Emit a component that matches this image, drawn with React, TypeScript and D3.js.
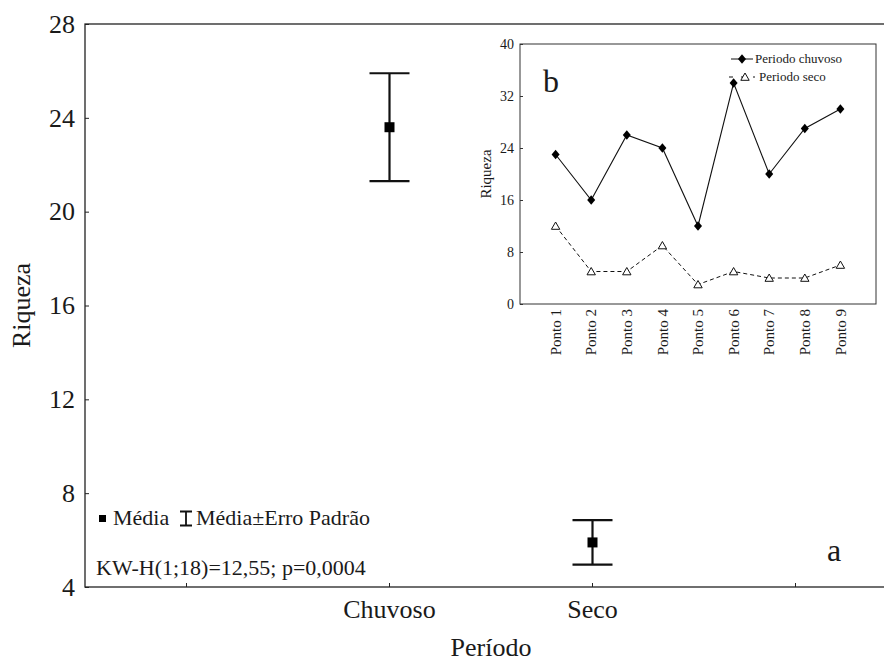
import * as d3 from "d3";
import { useEffect, useRef } from "react";

// main chart: mean +- standard error per period
const periodSlots = ["", "Chuvoso", "Seco", ""];
const periodMeans = [null, 23.6, 5.9, null];
const periodErrors = [null, 2.3, 0.95, null];
const mainTicks = [4, 8, 12, 16, 20, 24, 28];

// inset: richness per sampling point
const pontos = ["Ponto 1", "Ponto 2", "Ponto 3", "Ponto 4", "Ponto 5", "Ponto 6", "Ponto 7", "Ponto 8", "Ponto 9"];
const chuvoso = [23, 16, 26, 24, 12, 34, 20, 27, 30];
const seco = [12, 5, 5, 9, 3, 5, 4, 4, 6];
const insetTicks = [0, 8, 16, 24, 32, 40];

const FONT = "'Liberation Serif', 'Times New Roman', serif";
const INK = "#1a1a1a";

export default function App() {
  const ref = useRef<SVGSVGElement | null>(null);

  useEffect(() => {
    const svg = d3.select(ref.current);
    svg.selectAll("*").remove();

    const m = { left: 85, top: 24, right: 897, bottom: 587 };

    const x = d3.scaleBand<number>().domain(d3.range(periodSlots.length)).range([m.left, m.right]);
    const y = d3.scaleLinear().domain([4, 28]).range([m.bottom, m.top]);

    svg
      .append("rect")
      .attr("x", m.left)
      .attr("y", m.top)
      .attr("width", m.right - m.left)
      .attr("height", m.bottom - m.top)
      .attr("fill", "none")
      .attr("stroke", "#222")
      .attr("stroke-width", 1.3);

    // y axis
    const yAxis = svg
      .append("g")
      .attr("transform", `translate(${m.left},0)`)
      .call(d3.axisLeft(y).tickValues(mainTicks).tickSize(-4).tickPadding(10));
    yAxis.select(".domain").remove();
    yAxis.selectAll("line").attr("stroke", "#222");
    yAxis.selectAll("text").attr("font-family", FONT).attr("font-size", 26).attr("fill", INK);

    // x axis
    const xAxis = svg
      .append("g")
      .attr("transform", `translate(0,${m.bottom})`)
      .call(
        d3
          .axisBottom(x)
          .tickFormat((i) => periodSlots[i])
          .tickSize(-4)
          .tickPadding(13)
      );
    xAxis.select(".domain").remove();
    xAxis.selectAll("line").attr("stroke", "#222");
    xAxis.selectAll("text").attr("font-family", FONT).attr("font-size", 26).attr("fill", INK);

    svg
      .append("text")
      .attr("transform", `translate(30,${(m.top + m.bottom) / 2}) rotate(-90)`)
      .attr("text-anchor", "middle")
      .attr("font-family", FONT)
      .attr("font-size", 26)
      .attr("fill", INK)
      .text("Riqueza");

    svg
      .append("text")
      .attr("x", (m.left + m.right) / 2)
      .attr("y", 656)
      .attr("text-anchor", "middle")
      .attr("font-family", FONT)
      .attr("font-size", 26)
      .attr("fill", INK)
      .text("Período");

    // error bars
    const bars = periodSlots
      .map((label, i) => ({ i, mean: periodMeans[i], se: periodErrors[i] }))
      .filter((d) => d.mean != null);
    const cap = 20;
    const eb = svg.append("g").attr("stroke", "#111").attr("stroke-width", 2.2);
    bars.forEach((d) => {
      const cx = x(d.i)! + x.bandwidth() / 2;
      const hi = y(d.mean! + d.se!);
      const lo = y(d.mean! - d.se!);
      eb.append("line").attr("x1", cx).attr("x2", cx).attr("y1", hi).attr("y2", lo);
      eb.append("line").attr("x1", cx - cap).attr("x2", cx + cap).attr("y1", hi).attr("y2", hi);
      eb.append("line").attr("x1", cx - cap).attr("x2", cx + cap).attr("y1", lo).attr("y2", lo);
      svg
        .append("rect")
        .attr("x", cx - 5)
        .attr("y", y(d.mean!) - 5)
        .attr("width", 10)
        .attr("height", 10)
        .attr("fill", "#000");
    });

    // legend + stats
    svg.append("rect").attr("x", 99).attr("y", 515).attr("width", 7).attr("height", 7).attr("fill", "#000");
    svg
      .append("text")
      .attr("x", 113)
      .attr("y", 525)
      .attr("font-family", FONT)
      .attr("font-size", 22)
      .attr("fill", INK)
      .text("Média");
    svg
      .append("path")
      .attr("d", "M180,511.5H192M186,511.5V525.5M180,525.5H192")
      .attr("stroke", "#111")
      .attr("stroke-width", 1.8)
      .attr("fill", "none");
    svg
      .append("text")
      .attr("x", 196)
      .attr("y", 525)
      .attr("font-family", FONT)
      .attr("font-size", 22)
      .attr("fill", INK)
      .text("Média±Erro Padrão");
    svg
      .append("text")
      .attr("x", 96)
      .attr("y", 575)
      .attr("font-family", FONT)
      .attr("font-size", 22)
      .attr("fill", INK)
      .text("KW-H(1;18)=12,55; p=0,0004");
    svg
      .append("text")
      .attr("x", 827)
      .attr("y", 561)
      .attr("font-family", FONT)
      .attr("font-size", 32)
      .attr("fill", INK)
      .text("a");

    // ---- inset ----
    const n = { left: 520, top: 44, right: 876, bottom: 304 };
    const ix = d3.scalePoint().domain(pontos).range([n.left, n.right]).padding(1);
    const iy = d3.scaleLinear().domain([0, 40]).range([n.bottom, n.top]);

    svg
      .append("rect")
      .attr("x", n.left)
      .attr("y", n.top)
      .attr("width", n.right - n.left)
      .attr("height", n.bottom - n.top)
      .attr("fill", "#fff")
      .attr("stroke", "#333")
      .attr("stroke-width", 1);

    const iyAxis = svg
      .append("g")
      .attr("transform", `translate(${n.left},0)`)
      .call(d3.axisLeft(iy).tickValues(insetTicks).tickSize(-3).tickPadding(6));
    iyAxis.select(".domain").remove();
    iyAxis.selectAll("line").attr("stroke", "#333");
    iyAxis.selectAll("text").attr("font-family", FONT).attr("font-size", 14).attr("fill", INK);

    svg
      .append("g")
      .selectAll("text")
      .data(pontos)
      .join("text")
      .attr("transform", (d) => `translate(${ix(d)},309) rotate(-90)`)
      .attr("text-anchor", "end")
      .attr("dy", "0.35em")
      .attr("font-family", FONT)
      .attr("font-size", 15)
      .attr("fill", INK)
      .text((d) => d);

    svg
      .append("text")
      .attr("transform", `translate(491,${(n.top + n.bottom) / 2}) rotate(-90)`)
      .attr("text-anchor", "middle")
      .attr("font-family", FONT)
      .attr("font-size", 15)
      .attr("fill", INK)
      .text("Riqueza");

    const line = d3
      .line<number>()
      .x((d, i) => ix(pontos[i])!)
      .y((d) => iy(d));

    svg
      .append("path")
      .attr("d", line(seco))
      .attr("fill", "none")
      .attr("stroke", "#111")
      .attr("stroke-width", 1)
      .attr("stroke-dasharray", "4,3");
    svg
      .append("path")
      .attr("d", line(chuvoso))
      .attr("fill", "none")
      .attr("stroke", "#111")
      .attr("stroke-width", 1.1);

    const diamond = "M0,-4.8L4,0L0,4.8L-4,0Z";
    const triangle = "M0,-4L4.2,3.3L-4.2,3.3Z";

    svg
      .append("g")
      .selectAll("path")
      .data(chuvoso)
      .join("path")
      .attr("transform", (d, i) => `translate(${ix(pontos[i])},${iy(d)})`)
      .attr("d", diamond)
      .attr("fill", "#000");

    svg
      .append("g")
      .selectAll("path")
      .data(seco)
      .join("path")
      .attr("transform", (d, i) => `translate(${ix(pontos[i])},${iy(d)})`)
      .attr("d", triangle)
      .attr("fill", "#fff")
      .attr("stroke", "#111")
      .attr("stroke-width", 1);

    // inset legend
    const lg = svg.append("g").attr("font-family", FONT).attr("font-size", 13).attr("fill", INK);
    lg.append("line").attr("x1", 731).attr("x2", 753).attr("y1", 59).attr("y2", 59).attr("stroke", "#111");
    lg.append("path").attr("transform", "translate(742,59)").attr("d", diamond).attr("fill", "#000");
    lg.append("text").attr("x", 755).attr("y", 63).text("Periodo chuvoso");
    lg.append("line")
      .attr("x1", 729)
      .attr("x2", 755)
      .attr("y1", 77)
      .attr("y2", 77)
      .attr("stroke", "#111")
      .attr("stroke-dasharray", "4,8");
    lg.append("path")
      .attr("transform", "translate(745,77)")
      .attr("d", triangle)
      .attr("fill", "#fff")
      .attr("stroke", "#111");
    lg.append("text").attr("x", 759).attr("y", 81).text("Periodo seco");

    svg
      .append("text")
      .attr("x", 543)
      .attr("y", 92)
      .attr("font-family", FONT)
      .attr("font-size", 32)
      .attr("fill", INK)
      .text("b");
  }, []);

  return (
    <svg
      ref={ref}
      width={884}
      height={663}
      style={{ position: "absolute", left: 0, top: 0, background: "#fff", display: "block" }}
    />
  );
}
